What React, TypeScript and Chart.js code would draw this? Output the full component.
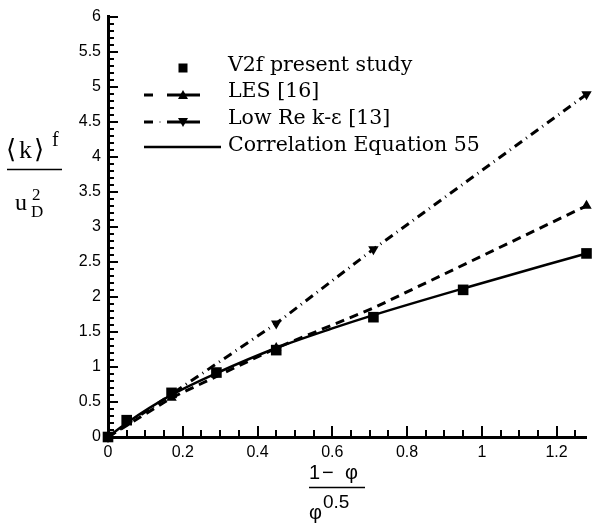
import { useEffect, useRef } from 'react';
import { Chart, registerables } from 'chart.js';

Chart.register(...registerables);

// V2f present study (square markers)
const v2fX = [0, 0.05, 0.17, 0.29, 0.45, 0.71, 0.95, 1.28];
const v2fY = [0, 0.24, 0.63, 0.92, 1.24, 1.71, 2.1, 2.62];
// LES [16] (dashed, up triangles)
const lesX = [0, 0.17, 0.45, 0.71, 1.28];
const lesY = [0, 0.56, 1.27, 1.84, 3.3];
const lesMarker = [6, 6, 6, 0, 6];
// Low Re k-epsilon [13] (dash-dot, down triangles)
const lowReX = [0, 0.45, 0.71, 1.28];
const lowReY = [0, 1.62, 2.68, 4.89];
// Correlation Equation 55 (solid curve)
const corrX = [0, 0.05, 0.17, 0.29, 0.45, 0.6, 0.71, 0.95, 1.28];
const corrY = [0, 0.2, 0.6, 0.91, 1.27, 1.55, 1.74, 2.12, 2.62];

const xTickValues = [0, 0.2, 0.4, 0.6, 0.8, 1, 1.2];
const xTickLabels = ['0', '0.2', '0.4', '0.6', '0.8', '1', '1.2'];
const yTickValues = [0, 0.5, 1, 1.5, 2, 2.5, 3, 3.5, 4, 4.5, 5, 5.5, 6];
const yTickLabels = ['0', '0.5', '1', '1.5', '2', '2.5', '3', '3.5', '4', '4.5', '5', '5.5', '6'];

const legendLabels = ['V2f present study', 'LES [16]', 'Low Re k-\u03b5 [13]', 'Correlation Equation 55'];

const pts = (xs: number[], ys: number[]) => xs.map((x, i) => ({ x, y: ys[i] }));

const SERIF = '"DejaVu Serif", serif';
const SANS = '"Liberation Sans", Arial, sans-serif';
const TITLE_SERIF = '"Liberation Serif", "DejaVu Serif", serif';

function triangle(ctx: CanvasRenderingContext2D, x: number, y: number, s: number, down: boolean) {
  const h = s * 0.9;
  ctx.beginPath();
  if (down) {
    ctx.moveTo(x - s / 2, y - h / 2);
    ctx.lineTo(x + s / 2, y - h / 2);
    ctx.lineTo(x, y + h / 2);
  } else {
    ctx.moveTo(x - s / 2, y + h / 2);
    ctx.lineTo(x + s / 2, y + h / 2);
    ctx.lineTo(x, y - h / 2);
  }
  ctx.closePath();
  ctx.fill();
}

const decorPlugin = {
  id: 'decor',
  afterDraw(chart: any) {
    const { ctx, chartArea, scales } = chart;
    const xs = scales.x;
    const ys = scales.y;
    ctx.save();
    ctx.fillStyle = '#000';
    ctx.strokeStyle = '#000';

    // inward minor/major ticks on both axes
    ctx.lineWidth = 2;
    for (let i = 0; i <= 60; i++) {
      const py = Math.round(ys.getPixelForValue(i / 10));
      const len = i % 5 === 0 ? 9 : 5;
      ctx.beginPath();
      ctx.moveTo(chartArea.left, py);
      ctx.lineTo(chartArea.left + 1 + len, py);
      ctx.stroke();
    }
    for (let i = 0; i <= 25; i++) {
      const px = Math.round(xs.getPixelForValue(i * 0.05));
      const len = i % 4 === 0 ? 10 : 6;
      ctx.beginPath();
      ctx.moveTo(px, chartArea.bottom);
      ctx.lineTo(px, chartArea.bottom - 1 - len);
      ctx.stroke();
    }

    // legend
    const lx0 = 144;
    const mx = 183;
    const tx = 228;
    const rows = [68, 95, 122, 147];
    const bases = [71, 97, 124, 151];
    ctx.fillRect(mx - 4.5, rows[0] - 4.5, 9, 9);
    ctx.lineWidth = 3;
    ctx.beginPath();
    ctx.moveTo(lx0, rows[1]); ctx.lineTo(lx0 + 9, rows[1]);
    ctx.moveTo(167, rows[1]); ctx.lineTo(200, rows[1]);
    ctx.stroke();
    triangle(ctx, mx, rows[1] - 0.5, 10, false);
    ctx.beginPath();
    ctx.moveTo(lx0, rows[2]); ctx.lineTo(lx0 + 9, rows[2]);
    ctx.moveTo(167, rows[2]); ctx.lineTo(200, rows[2]);
    ctx.stroke();
    ctx.fillStyle = '#bbb';
    ctx.fillRect(159, rows[2] - 1, 2, 2);
    ctx.fillStyle = '#000';
    triangle(ctx, mx, rows[2] + 0.5, 10, true);
    ctx.lineWidth = 2.5;
    ctx.beginPath();
    ctx.moveTo(lx0, rows[3]); ctx.lineTo(221, rows[3]);
    ctx.stroke();

    ctx.font = `20.5px ${SERIF}`;
    ctx.textAlign = 'left';
    ctx.textBaseline = 'alphabetic';
    legendLabels.forEach((t, i) => ctx.fillText(t, tx, bases[i]));

    // y-axis title: <k>^f / u_D^2
    ctx.font = `26px ${TITLE_SERIF}`;
    ctx.fillText('\u27e8', 6, 158);
    ctx.fillText('k', 19, 158);
    ctx.fillText('\u27e9', 34, 158);
    ctx.font = `20px ${TITLE_SERIF}`;
    ctx.fillText('f', 52, 146);
    ctx.lineWidth = 1.5;
    ctx.beginPath();
    ctx.moveTo(7, 169.5); ctx.lineTo(62, 169.5);
    ctx.stroke();
    ctx.font = `24px ${TITLE_SERIF}`;
    ctx.fillText('u', 15, 210);
    ctx.font = `17px ${TITLE_SERIF}`;
    ctx.fillText('2', 32, 200);
    ctx.fillText('D', 31, 217);

    // x-axis title: (1 - phi) / phi^0.5
    ctx.font = `20px ${SANS}`;
    ctx.fillText('1', 309, 479);
    ctx.fillText('\u2212', 322, 479);
    ctx.fillText('\u03c6', 345, 479);
    ctx.beginPath();
    ctx.moveTo(309, 487.5); ctx.lineTo(365, 487.5);
    ctx.stroke();
    ctx.fillText('\u03c6', 309, 519);
    ctx.font = `19px ${SANS}`;
    ctx.fillText('0.5', 323, 508);
    ctx.restore();
  },
};

export default function App() {
  const ref = useRef<HTMLCanvasElement | null>(null);

  useEffect(() => {
    if (!ref.current) return;
    const chart = new Chart(ref.current, {
      type: 'line',
      data: {
        datasets: [
          {
            label: legendLabels[0],
            data: pts(v2fX, v2fY),
            showLine: false,
            pointStyle: 'rect',
            pointRadius: 7.5,
            pointBackgroundColor: '#000',
            pointBorderColor: '#000',
            pointBorderWidth: 0,
            order: 0,
          },
          {
            label: legendLabels[3],
            data: pts(corrX, corrY),
            borderColor: '#000',
            borderWidth: 2.5,
            pointRadius: 0,
            cubicInterpolationMode: 'monotone',
            order: 1,
          },
          {
            label: legendLabels[1],
            data: pts(lesX, lesY),
            borderColor: '#000',
            borderWidth: 3,
            borderDash: [9, 6],
            pointStyle: 'triangle',
            pointRadius: lesMarker,
            pointBackgroundColor: '#000',
            pointBorderColor: '#000',
            pointBorderWidth: 0,
            order: 2,
          },
          {
            label: legendLabels[2],
            data: pts(lowReX, lowReY),
            borderColor: '#000',
            borderWidth: 3,
            borderDash: [9, 5, 1, 5],
            pointStyle: 'triangle',
            rotation: 180,
            pointRotation: 180,
            pointRadius: 6,
            pointBackgroundColor: '#000',
            pointBorderColor: '#000',
            pointBorderWidth: 0,
            order: 3,
          },
        ],
      },
      options: {
        responsive: false,
        animation: false,
        clip: false,
        layout: { padding: { left: 0, right: 3, top: 15, bottom: 0 } },
        plugins: { legend: { display: false }, tooltip: { enabled: false } },
        elements: { line: { tension: 0 } },
        scales: {
          x: {
            type: 'linear',
            min: 0,
            max: 1.28,
            grid: { display: false, drawTicks: false },
            border: { display: true, color: '#000', width: 3 },
            afterBuildTicks: (s: any) => {
              s.ticks = xTickValues.map((v) => ({ value: v }));
            },
            afterFit: (s: any) => {
              s.height = 90;
            },
            ticks: {
              color: '#000',
              font: { family: SANS, size: 16 },
              padding: 6,
              maxRotation: 0,
              autoSkip: false,
              callback: (_v: any, i: number) => xTickLabels[i],
            },
          },
          y: {
            type: 'linear',
            min: 0,
            max: 6,
            grid: { display: false, drawTicks: false },
            border: { display: true, color: '#000', width: 3 },
            afterBuildTicks: (s: any) => {
              s.ticks = yTickValues.map((v) => ({ value: v }));
            },
            afterFit: (s: any) => {
              s.width = 108;
            },
            ticks: {
              color: '#000',
              font: { family: SANS, size: 16 },
              padding: 7,
              autoSkip: false,
              callback: (_v: any, i: number) => yTickLabels[i],
            },
          },
        },
      },
      plugins: [decorPlugin],
    } as any);
    return () => chart.destroy();
  }, []);

  return (
    <div style={{ position: 'absolute', left: 0, top: 0, width: 594, height: 527, background: '#fff' }}>
      <canvas ref={ref} width={594} height={527} />
    </div>
  );
}
